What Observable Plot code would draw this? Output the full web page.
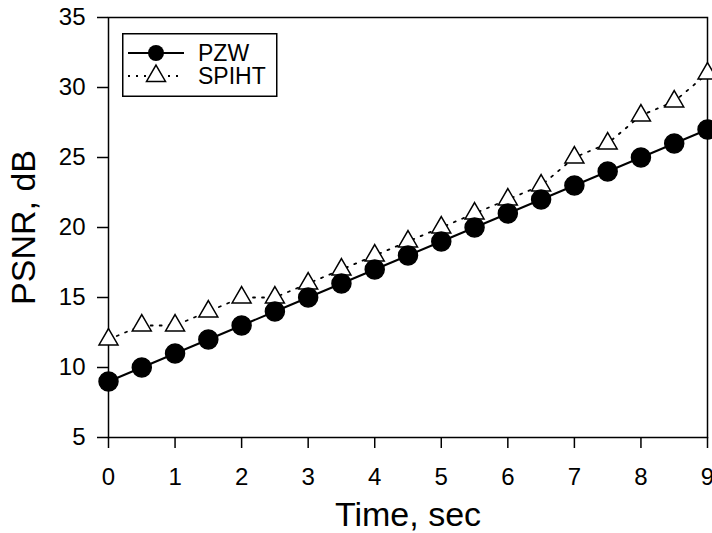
<!DOCTYPE html>
<html>
<head>
<meta charset="utf-8">
<script src="https://cdn.jsdelivr.net/npm/d3@7"></script>
<script src="https://cdn.jsdelivr.net/npm/@observablehq/plot@0.6"></script>
<style>
  html, body { margin: 0; padding: 0; background: #fff; }
  #wrap { position: relative; width: 712px; height: 533px; font-family: "Liberation Sans", Arial, sans-serif; }
  #legend { position: absolute; left: 122px; top: 33px; }
</style>
</head>
<body>
<div id="wrap"></div>
<script>
const times = [0, 0.5, 1, 1.5, 2, 2.5, 3, 3.5, 4, 4.5, 5, 5.5, 6, 6.5, 7, 7.5, 8, 8.5, 9];
const pzw   = [9, 10, 11, 12, 13, 14, 15, 16, 17, 18, 19, 20, 21, 22, 23, 24, 25, 26, 27];
const spiht = [12, 13, 13, 14, 15, 15, 16, 17, 18, 19, 20, 21, 22, 23, 25, 26, 28, 29, 31];
const xTicks = [0, 1, 2, 3, 4, 5, 6, 7, 8, 9];
const yTicks = [5, 10, 15, 20, 25, 30, 35];
const seriesNames = ["PZW", "SPIHT"];

const dPZW = times.map((t, i) => ({t, v: pzw[i]}));
const dSP = times.map((t, i) => ({t, v: spiht[i]}));

const chart = Plot.plot({
  width: 712,
  height: 533,
  marginLeft: 108,
  marginRight: 5,
  marginTop: 17,
  marginBottom: 96,
  style: {fontFamily: "Liberation Sans, Arial, sans-serif", background: "#fff", color: "#000"},
  x: {domain: [0, 9]},
  y: {domain: [5, 35]},
  marks: [
    Plot.frame({stroke: "#000", strokeWidth: 1.5}),
    Plot.axisX({ticks: xTicks, tickSize: 11, tickPadding: 19, fontSize: 24, label: null, stroke: "#000", strokeWidth: 1.5}),
    Plot.axisY({ticks: yTicks, tickSize: 11, tickPadding: 12, fontSize: 24, label: null, stroke: "#000", strokeWidth: 1.5}),
    Plot.text(["Time, sec"], {frameAnchor: "bottom", dy: 78, fontSize: 34, lineAnchor: "middle", textAnchor: "middle", fill: "#000"}),
    Plot.text(["PSNR, dB"], {frameAnchor: "left", dx: -84, rotate: -90, fontSize: 34, lineAnchor: "middle", textAnchor: "middle", fill: "#000"}),
    Plot.line(dSP, {x: "t", y: "v", stroke: "#000", strokeWidth: 1.8, strokeDasharray: "2,7"}),
    Plot.line(dPZW, {x: "t", y: "v", stroke: "#000", strokeWidth: 2}),
    Plot.dot(dSP, {x: "t", y: "v", symbol: "triangle", r: 7.05, fill: "#fff", stroke: "#000", strokeWidth: 1.5}),
    Plot.dot(dPZW, {x: "t", y: "v", r: 9.5, fill: "#000", stroke: "#000"})
  ]
});

const wrap = document.getElementById("wrap");
wrap.appendChild(chart);

// Legend
const ns = "http://www.w3.org/2000/svg";
const lg = document.createElementNS(ns, "svg");
lg.setAttribute("id", "legend");
lg.setAttribute("width", 157);
lg.setAttribute("height", 65);
lg.innerHTML = `
  <rect x="0.75" y="0.75" width="154" height="62.5" fill="#fff" stroke="#000" stroke-width="1.5"/>
  <line x1="6" x2="62" y1="20" y2="20" stroke="#000" stroke-width="2"/>
  <circle cx="34" cy="20" r="8" fill="#000"/>
  <line x1="6" x2="62" y1="43" y2="43" stroke="#000" stroke-width="1.8" stroke-dasharray="2,6"/>
  <path transform="translate(34,43)" d="${d3.symbol(d3.symbolTriangle, Math.PI * 7.05 * 7.05)()}" fill="#fff" stroke="#000" stroke-width="1.5"/>
  <text x="76" y="20" dy="0.36em" font-size="23" font-family="Liberation Sans, Arial, sans-serif">${seriesNames[0]}</text>
  <text x="76" y="43" dy="0.36em" font-size="23" font-family="Liberation Sans, Arial, sans-serif">${seriesNames[1]}</text>
`;
wrap.appendChild(lg);
</script>
</body>
</html>
